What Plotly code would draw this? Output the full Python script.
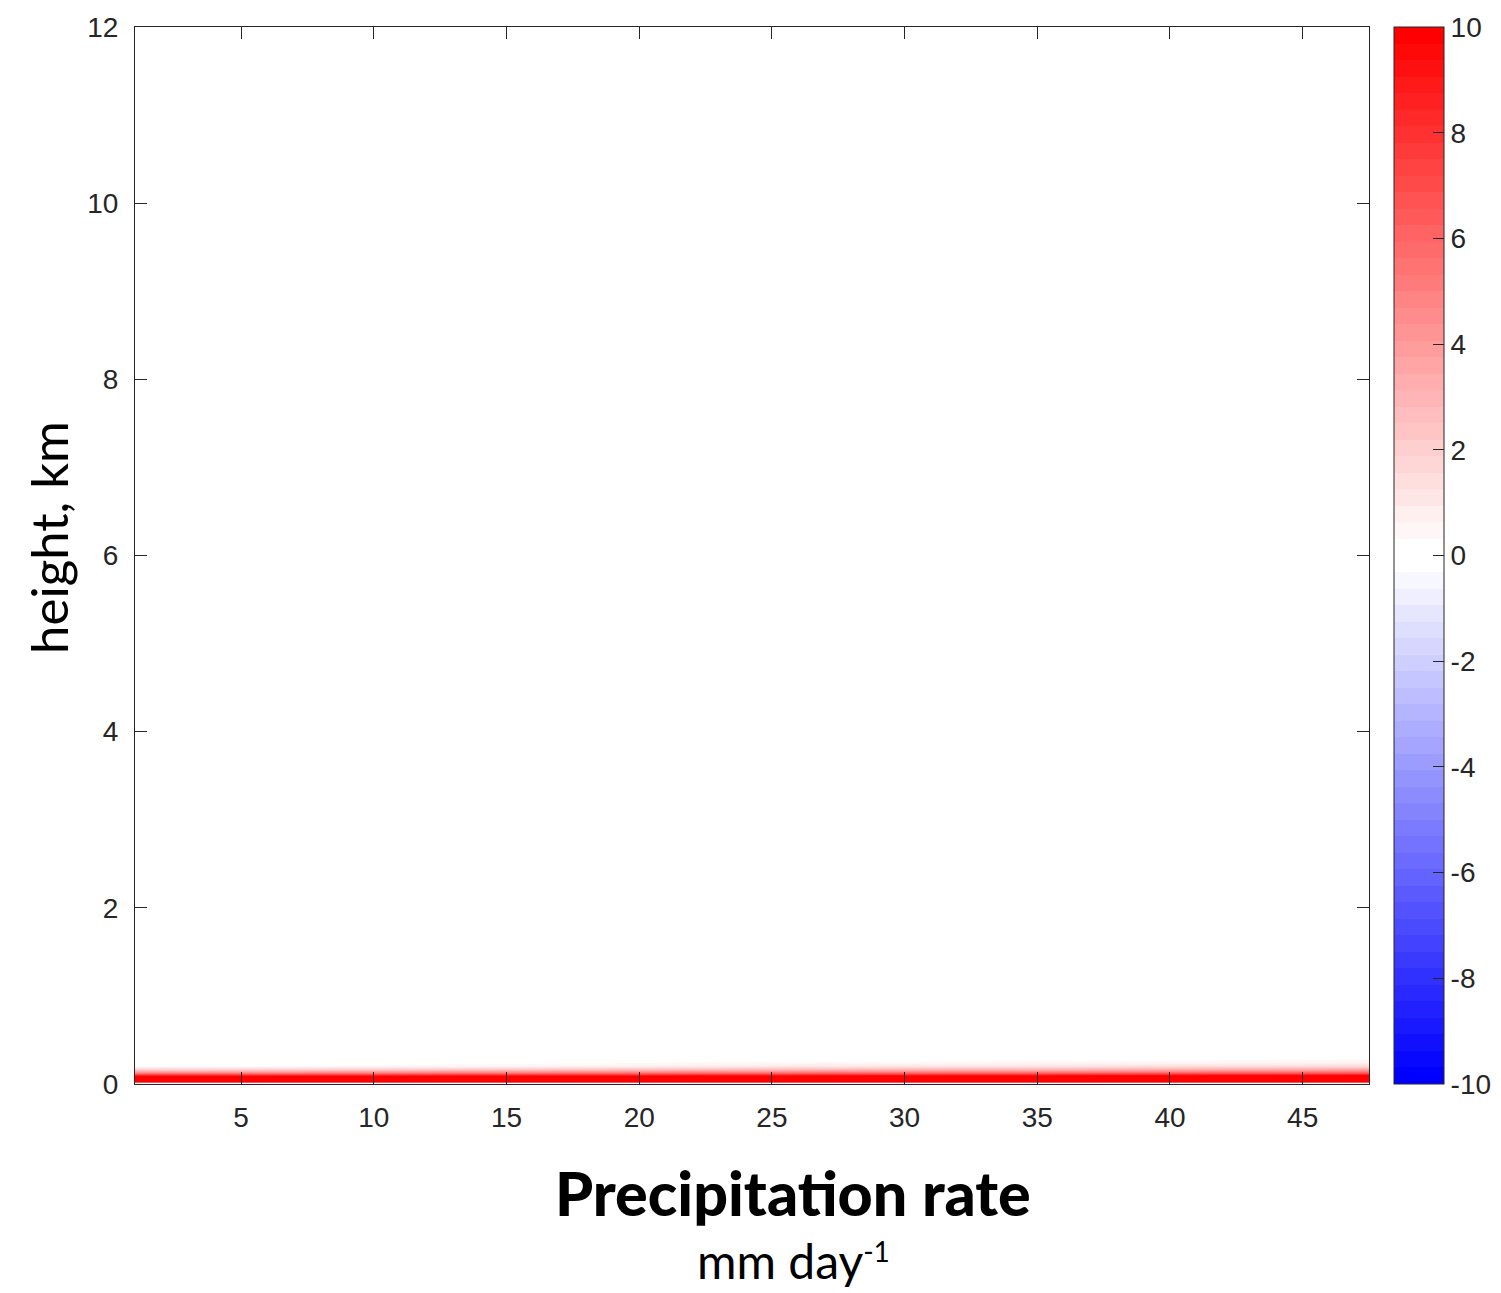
import plotly.graph_objects as go

# ---- data ----
precip = [1, 5, 10, 15, 20, 25, 30, 35, 40, 45, 47.5]
heights = [0.02, 0.05, 0.08, 0.12, 0.16, 0.20, 0.24, 0.28, 0.5, 1, 2, 4, 6, 8, 10, 12]
z_rows = [
    [14.0, 14.0, 14.0, 14.1, 14.1, 14.2, 14.2, 14.3, 14.3, 14.4, 14.4],
    [13.0, 13.0, 13.0, 13.1, 13.1, 13.2, 13.2, 13.3, 13.3, 13.4, 13.4],
    [10.5, 10.5, 10.6, 10.7, 10.8, 11.0, 11.0, 11.2, 11.4, 11.6, 11.7],
    [5.0, 5.0, 5.2, 5.4, 5.6, 5.8, 6.0, 6.1, 6.3, 6.5, 6.6],
    [2.0, 2.0, 2.2, 2.4, 2.6, 2.8, 3.0, 3.1, 3.3, 3.5, 3.6],
    [0.3, 0.3, 0.4, 0.6, 0.8, 1.0, 1.1, 1.2, 1.4, 1.5, 1.6],
    [0.0, 0.0, 0.1, 0.2, 0.3, 0.4, 0.4, 0.5, 0.5, 0.6, 0.7],
    [0.0, 0.0, 0.0, 0.0, 0.0, 0.1, 0.1, 0.15, 0.2, 0.2, 0.25],
    [0.0] * 11,
    [0.0] * 11,
    [0.0] * 11,
    [0.0] * 11,
    [0.0] * 11,
    [0.0] * 11,
    [0.0] * 11,
    [0.0] * 11,
]
x_ticks = [5, 10, 15, 20, 25, 30, 35, 40, 45]
y_ticks = [0, 2, 4, 6, 8, 10, 12]
cb_ticks = [-10, -8, -6, -4, -2, 0, 2, 4, 6, 8, 10]
cb_ticktext = ["-10", "-8", "-6", "-4", "-2", "0", "2", "4", "6", "8", "10"]

# ---- stepped blue-white-red colormap (64 colours) ----
ncol = 64
half = ncol // 2
cols = []
for i in range(ncol):
    if i < half:
        v = i / (half - 1)
        cols.append(f"rgb({round(255*v)},{round(255*v)},255)")
    else:
        v = 1 - (i - half) / (half - 1)
        cols.append(f"rgb(255,{round(255*v)},{round(255*v)})")
colorscale = []
for i, c in enumerate(cols):
    colorscale.append([i / ncol, c])
    colorscale.append([(i + 1) / ncol, c])

axis_col = "#262626"
tick_font = dict(family="Liberation Sans, Arial, sans-serif", size=28, color=axis_col)

fig = go.Figure()
fig.add_trace(go.Contour(
    x=precip, y=heights, z=z_rows,
    zmin=-10, zmax=10, zauto=False,
    colorscale=colorscale,
    contours=dict(start=-10, end=10, size=20 / ncol, coloring="fill", showlines=False),
    line=dict(width=0),
    colorbar=dict(
        x=(1394 - 135) / 1234, xanchor="left", xpad=0,
        y=0.5, yanchor="middle", len=1, lenmode="fraction", ypad=0,
        thickness=50, thicknessmode="pixels",
        outlinecolor=axis_col, outlinewidth=1,
        tickvals=cb_ticks, ticktext=cb_ticktext,
        ticks="inside", ticklen=11, tickcolor=axis_col,
        tickfont=tick_font,
    ),
    hoverinfo="skip",
))

fig.update_layout(
    width=1501, height=1293,
    margin=dict(l=135, r=132, t=27, b=209, autoexpand=False),
    paper_bgcolor="white", plot_bgcolor="white",
    showlegend=False,
    xaxis=dict(
        range=[1, 47.5], tickvals=x_ticks, ticks="inside", ticklen=12,
        tickcolor=axis_col, showline=True, linecolor=axis_col, linewidth=1,
        mirror="allticks", showgrid=False, zeroline=False, tickfont=tick_font,
        ticklabelstandoff=8,
    ),
    yaxis=dict(
        range=[0, 12], tickvals=y_ticks, ticks="inside", ticklen=12,
        tickcolor=axis_col, showline=True, linecolor=axis_col, linewidth=1,
        mirror="allticks", showgrid=False, zeroline=False, tickfont=tick_font,
        ticklabelstandoff=10,
    ),
    annotations=[
        dict(text="height, km", xref="paper", yref="paper",
             x=(48 - 135) / 1234, y=(1084 - 538) / 1057, xanchor="center", yanchor="middle",
             textangle=-90, showarrow=False,
             font=dict(family="Lato, Noto Sans, sans-serif", size=51, color="black")),
        dict(text="Precipitation rate", xref="paper", yref="paper",
             x=(793 - 135) / 1234, y=(1084 - 1192) / 1057, xanchor="center", yanchor="middle",
             showarrow=False,
             font=dict(family="Lato, Noto Sans, sans-serif", size=61, color="black", weight=900)),
        dict(text="mm day<span style='font-size:40px'><sup>-1</sup></span>", xref="paper", yref="paper",
             x=(793 - 135) / 1234, y=(1084 - 1260) / 1057, xanchor="center", yanchor="middle",
             showarrow=False,
             font=dict(family="Lato, Noto Sans, sans-serif", size=48, color="black")),
    ],
)

fig.write_html("out.html")
